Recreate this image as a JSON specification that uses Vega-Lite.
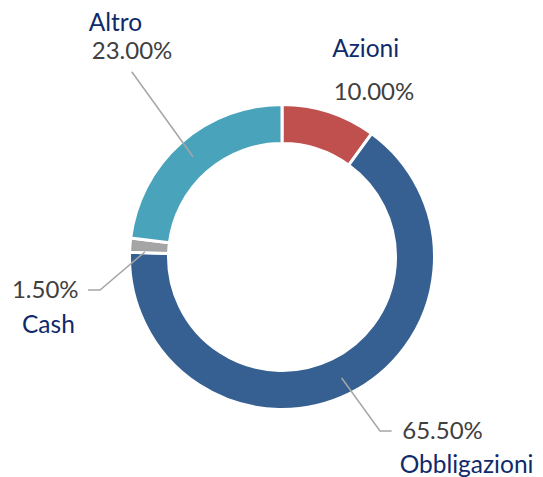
{
  "$schema": "https://vega.github.io/schema/vega-lite/v6.json",
  "width": 500,
  "height": 440,
  "autosize": "none",
  "padding": {"left": 32, "top": 37, "right": 11, "bottom": 0},
  "background": "white",
  "config": {"view": {"stroke": null}},
  "datasets": {
    "slices": [
      {"category": "Azioni", "share": 10.0, "order": 1},
      {"category": "Obbligazioni", "share": 65.5, "order": 2},
      {"category": "Cash", "share": 1.5, "order": 3},
      {"category": "Altro", "share": 23.0, "order": 4}
    ],
    "labels": [
      {"text": "Altro", "kind": "name", "u": -1.103, "v": 1.543},
      {"text": "23.00%", "kind": "pct", "u": -0.993, "v": 1.358},
      {"text": "Azioni", "kind": "name", "u": 0.554, "v": 1.371},
      {"text": "10.00%", "kind": "pct", "u": 0.609, "v": 1.089},
      {"text": "1.50%", "kind": "pct", "u": -1.568, "v": -0.225},
      {"text": "Cash", "kind": "name", "u": -1.547, "v": -0.457},
      {"text": "65.50%", "kind": "pct", "u": 1.063, "v": -1.159},
      {"text": "Obbligazioni", "kind": "name", "u": 1.222, "v": -1.384}
    ],
    "leaders": [
      {"line": "Altro", "pt": 1, "u": -0.995, "v": 1.227},
      {"line": "Altro", "pt": 2, "u": -0.589, "v": 0.664},
      {"line": "Cash", "pt": 1, "u": -1.285, "v": -0.219},
      {"line": "Cash", "pt": 2, "u": -1.205, "v": -0.219},
      {"line": "Cash", "pt": 3, "u": -0.907, "v": 0.035},
      {"line": "Obbligazioni", "pt": 1, "u": 0.395, "v": -0.801},
      {"line": "Obbligazioni", "pt": 2, "u": 0.649, "v": -1.152},
      {"line": "Obbligazioni", "pt": 3, "u": 0.726, "v": -1.152}
    ]
  },
  "layer": [
    {
      "data": {"name": "slices"},
      "mark": {"type": "arc", "radius": 152.5, "radius2": 113.5, "stroke": "white", "strokeWidth": 3},
      "encoding": {
        "theta": {"field": "share", "type": "quantitative", "stack": true},
        "order": {"field": "order", "type": "quantitative"},
        "color": {
          "field": "category",
          "type": "nominal",
          "scale": {
            "domain": ["Azioni", "Obbligazioni", "Cash", "Altro"],
            "range": ["#C0504D", "#376092", "#A5A5A5", "#48A3BB"]
          },
          "legend": null
        }
      }
    },
    {
      "data": {"name": "leaders"},
      "mark": {"type": "line", "color": "#A6A6A6", "strokeWidth": 1.5},
      "encoding": {
        "x": {"field": "u", "type": "quantitative", "scale": {"domain": [-1.6556, 1.6556], "nice": false, "zero": false}, "axis": null},
        "y": {"field": "v", "type": "quantitative", "scale": {"domain": [-1.457, 1.457], "nice": false, "zero": false}, "axis": null},
        "detail": {"field": "line", "type": "nominal"},
        "order": {"field": "pt", "type": "quantitative"}
      }
    },
    {
      "data": {"name": "labels"},
      "transform": [{"filter": "datum.kind === 'pct'"}],
      "mark": {"type": "text", "font": "Lato", "fontSize": 24, "color": "#404040", "align": "center", "baseline": "middle"},
      "encoding": {
        "x": {"field": "u", "type": "quantitative", "scale": {"domain": [-1.6556, 1.6556], "nice": false, "zero": false}, "axis": null},
        "y": {"field": "v", "type": "quantitative", "scale": {"domain": [-1.457, 1.457], "nice": false, "zero": false}, "axis": null},
        "text": {"field": "text", "type": "nominal"}
      }
    },
    {
      "data": {"name": "labels"},
      "transform": [{"filter": "datum.kind === 'name'"}],
      "mark": {"type": "text", "font": "Lato", "fontSize": 24.5, "color": "#0F2A6B", "align": "center", "baseline": "middle"},
      "encoding": {
        "x": {"field": "u", "type": "quantitative", "scale": {"domain": [-1.6556, 1.6556], "nice": false, "zero": false}, "axis": null},
        "y": {"field": "v", "type": "quantitative", "scale": {"domain": [-1.457, 1.457], "nice": false, "zero": false}, "axis": null},
        "text": {"field": "text", "type": "nominal"}
      }
    }
  ]
}
